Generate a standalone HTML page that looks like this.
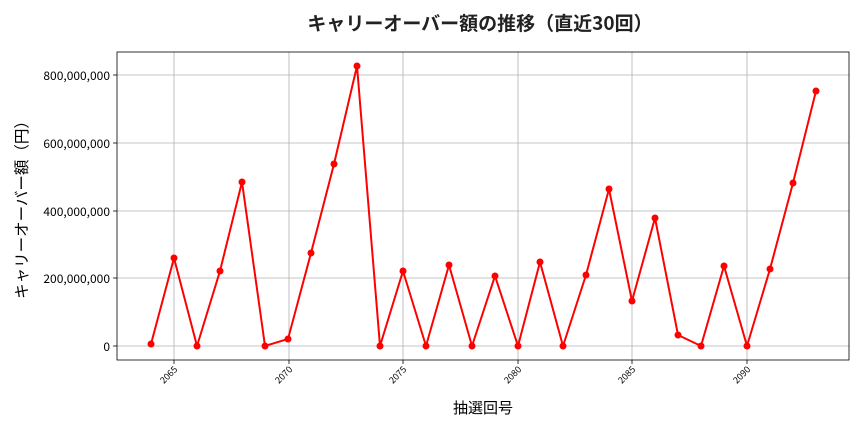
<!DOCTYPE html>
<html><head><meta charset="utf-8"><style>
body{margin:0;background:#fff;}
svg{display:block;font-family:"Liberation Sans","Noto Sans CJK JP",sans-serif;}
</style></head><body>
<svg width="864" height="432" viewBox="0 0 864 432" xmlns="http://www.w3.org/2000/svg">
<rect width="864" height="432" fill="#fff"/>
<text x="480" y="30" font-size="19" font-weight="bold" text-anchor="middle" fill="#222" font-family="Noto Sans CJK JP, sans-serif">キャリーオーバー額の推移（直近30回）</text>
<g stroke="#b0b0b0" stroke-width="0.8">
<line x1="174" y1="52" x2="174" y2="360"/><line x1="289" y1="52" x2="289" y2="360"/>
<line x1="403" y1="52" x2="403" y2="360"/><line x1="518" y1="52" x2="518" y2="360"/>
<line x1="632" y1="52" x2="632" y2="360"/><line x1="747" y1="52" x2="747" y2="360"/>
<line x1="117" y1="75" x2="849" y2="75"/><line x1="117" y1="143" x2="849" y2="143"/>
<line x1="117" y1="211" x2="849" y2="211"/><line x1="117" y1="278" x2="849" y2="278"/>
<line x1="117" y1="346" x2="849" y2="346"/>
</g>
<rect x="117" y="52" width="732" height="308" fill="none" stroke="#000" stroke-width="0.8"/>
<g stroke="#000" stroke-width="0.8">
<line x1="113" y1="75" x2="117" y2="75"/><line x1="113" y1="143" x2="117" y2="143"/>
<line x1="113" y1="211" x2="117" y2="211"/><line x1="113" y1="278" x2="117" y2="278"/>
<line x1="113" y1="346" x2="117" y2="346"/>
<line x1="174" y1="360" x2="174" y2="364"/><line x1="289" y1="360" x2="289" y2="364"/>
<line x1="403" y1="360" x2="403" y2="364"/><line x1="518" y1="360" x2="518" y2="364"/>
<line x1="632" y1="360" x2="632" y2="364"/><line x1="747" y1="360" x2="747" y2="364"/>
</g>
<g font-size="12" text-anchor="end" fill="#000" font-family="Noto Sans CJK JP, sans-serif">
<text x="110" y="80">800,000,000</text><text x="110" y="148">600,000,000</text>
<text x="110" y="216">400,000,000</text><text x="110" y="283">200,000,000</text>
<text x="110" y="351">0</text>
</g>
<g font-size="9" text-anchor="end" fill="#000" font-family="Noto Sans CJK JP, sans-serif">
<text transform="translate(178,370) rotate(-45)">2065</text>
<text transform="translate(293,370) rotate(-45)">2070</text>
<text transform="translate(407,370) rotate(-45)">2075</text>
<text transform="translate(522,370) rotate(-45)">2080</text>
<text transform="translate(636,370) rotate(-45)">2085</text>
<text transform="translate(751,370) rotate(-45)">2090</text>
</g>
<text x="483" y="413" font-size="15" text-anchor="middle" font-family="Noto Sans CJK JP, sans-serif">抽選回号</text>
<text transform="translate(27,206) rotate(-90)" font-size="15.5" text-anchor="middle" font-family="Noto Sans CJK JP, sans-serif">キャリーオーバー額（円）</text>
<polyline fill="none" stroke="#f00" stroke-width="2" points="151,344 174,258 197,346 220,271 242,182 265,346 288,339 311,253 334,164 357,66 380,346 403,271 426,346 449,265 472,346 495,276 518,346 540,262 563,346 586,275 609,189 632,301 655,218 678,335 701,346 724,266 747,346 770,269 793,183 816,91"/>
<g fill="#f00">
<circle cx="151" cy="344" r="3.5"/><circle cx="174" cy="258" r="3.5"/><circle cx="197" cy="346" r="3.5"/><circle cx="220" cy="271" r="3.5"/><circle cx="242" cy="182" r="3.5"/><circle cx="265" cy="346" r="3.5"/><circle cx="288" cy="339" r="3.5"/><circle cx="311" cy="253" r="3.5"/><circle cx="334" cy="164" r="3.5"/><circle cx="357" cy="66" r="3.5"/><circle cx="380" cy="346" r="3.5"/><circle cx="403" cy="271" r="3.5"/><circle cx="426" cy="346" r="3.5"/><circle cx="449" cy="265" r="3.5"/><circle cx="472" cy="346" r="3.5"/><circle cx="495" cy="276" r="3.5"/><circle cx="518" cy="346" r="3.5"/><circle cx="540" cy="262" r="3.5"/><circle cx="563" cy="346" r="3.5"/><circle cx="586" cy="275" r="3.5"/><circle cx="609" cy="189" r="3.5"/><circle cx="632" cy="301" r="3.5"/><circle cx="655" cy="218" r="3.5"/><circle cx="678" cy="335" r="3.5"/><circle cx="701" cy="346" r="3.5"/><circle cx="724" cy="266" r="3.5"/><circle cx="747" cy="346" r="3.5"/><circle cx="770" cy="269" r="3.5"/><circle cx="793" cy="183" r="3.5"/><circle cx="816" cy="91" r="3.5"/>
</g>
</svg>
</body></html>
